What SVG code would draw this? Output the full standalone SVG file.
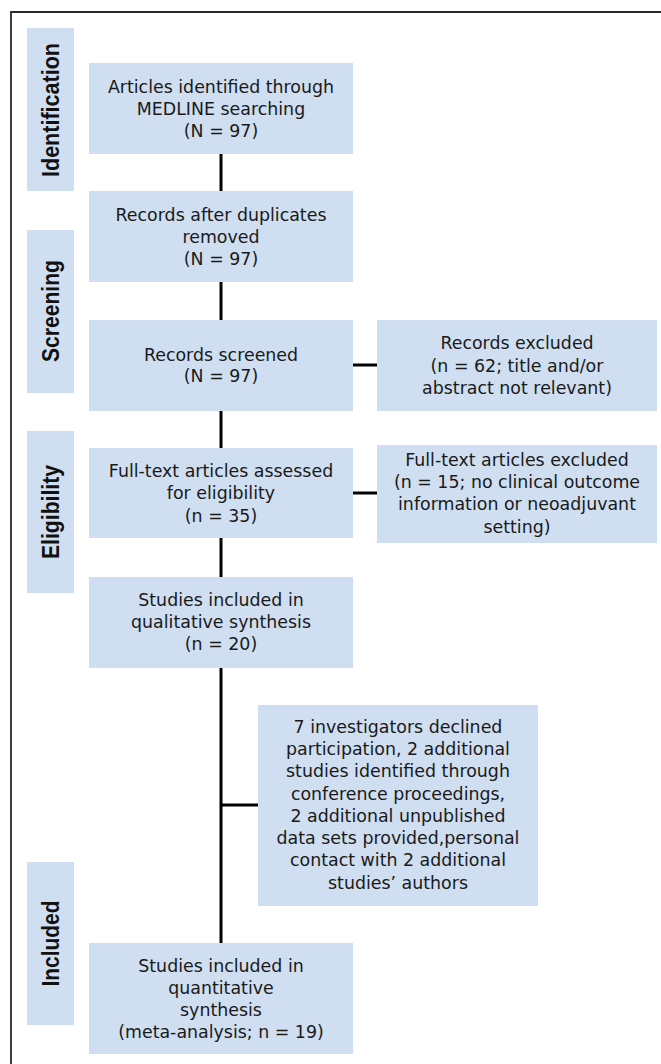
<svg xmlns="http://www.w3.org/2000/svg" width="661" height="1064" viewBox="0 0 661 1064">
<style>
.box{fill:#cfdef0}
.lab{fill:#cfdef0}
.t{font-family:"DejaVu Sans",sans-serif;font-size:17.4px;fill:#1a1a1a;text-anchor:middle}
.lt{font-family:"Liberation Sans",Arial,sans-serif;font-weight:bold;font-size:23px;fill:#111;text-anchor:middle}
.c{stroke:#000;stroke-width:3;fill:none}
</style>
<rect width="661" height="1064" fill="#fff"/>
<path d="M11,1064 V12 H661" fill="none" stroke="#2a2a2a" stroke-width="1.8"/>
<g id="labels">
<g id="lab-identification"><rect class="lab" x="27" y="28" width="47" height="163"/><text class="lt" transform="translate(59,110) rotate(-90)" textLength="134" lengthAdjust="spacingAndGlyphs">Identification</text></g>
<g id="lab-screening"><rect class="lab" x="27" y="230" width="47" height="163"/><text class="lt" transform="translate(59,311) rotate(-90)" textLength="102" lengthAdjust="spacingAndGlyphs">Screening</text></g>
<g id="lab-eligibility"><rect class="lab" x="27" y="431" width="47" height="162"/><text class="lt" transform="translate(59,512) rotate(-90)" textLength="94" lengthAdjust="spacingAndGlyphs">Eligibility</text></g>
<g id="lab-included"><rect class="lab" x="27" y="862" width="47" height="163"/><text class="lt" transform="translate(59,943.5) rotate(-90)" textLength="86" lengthAdjust="spacingAndGlyphs">Included</text></g>
</g>
<g id="connectors">
<line class="c" x1="221" y1="154" x2="221" y2="191"/>
<line class="c" x1="221" y1="282" x2="221" y2="320"/>
<line class="c" x1="221" y1="411" x2="221" y2="448"/>
<line class="c" x1="221" y1="538" x2="221" y2="577"/>
<line class="c" x1="221" y1="668" x2="221" y2="943"/>
<line class="c" x1="353" y1="365" x2="377" y2="365"/>
<line class="c" x1="353" y1="493" x2="377" y2="493"/>
<line class="c" x1="221" y1="805" x2="258" y2="805"/>
</g>
<g id="n1"><rect class="box" x="89" y="63" width="264" height="91"/><text class="t"><tspan x="221" y="92.7">Articles identified through</tspan><tspan x="221" y="115">MEDLINE searching</tspan><tspan x="221" y="137">(N = 97)</tspan></text></g>
<g id="n2"><rect class="box" x="89" y="191" width="264" height="91"/><text class="t"><tspan x="221" y="220.7">Records after duplicates</tspan><tspan x="221" y="242.5">removed</tspan><tspan x="221" y="264.5">(N = 97)</tspan></text></g>
<g id="n3"><rect class="box" x="89" y="320" width="264" height="91"/><text class="t"><tspan x="221" y="360.5">Records screened</tspan><tspan x="221" y="382">(N = 97)</tspan></text></g>
<g id="r1"><rect class="box" x="377" y="320" width="280" height="91"/><text class="t"><tspan x="517" y="349.3">Records excluded</tspan><tspan x="517" y="371.7">(n = 62; title and/or</tspan><tspan x="517" y="393.5">abstract not relevant)</tspan></text></g>
<g id="n4"><rect class="box" x="89" y="448" width="264" height="90"/><text class="t"><tspan x="221" y="476.7">Full-text articles assessed</tspan><tspan x="221" y="499.3">for eligibility</tspan><tspan x="221" y="521.7">(n = 35)</tspan></text></g>
<g id="r2"><rect class="box" x="377" y="445" width="280" height="98"/><text class="t"><tspan x="517" y="465.7">Full-text articles excluded</tspan><tspan x="517" y="488.3">(n = 15; no clinical outcome</tspan><tspan x="517" y="510.3">information or neoadjuvant</tspan><tspan x="517" y="532.5">setting)</tspan></text></g>
<g id="n5"><rect class="box" x="89" y="577" width="264" height="91"/><text class="t"><tspan x="221" y="605.7">Studies included in</tspan><tspan x="221" y="627.5">qualitative synthesis</tspan><tspan x="221" y="650">(n = 20)</tspan></text></g>
<g id="n6"><rect class="box" x="258" y="705" width="280" height="201"/><text class="t"><tspan x="398" y="732.7">7 investigators declined</tspan><tspan x="398" y="755">participation, 2 additional</tspan><tspan x="398" y="777.3">studies identified through</tspan><tspan x="398" y="799.5">conference proceedings,</tspan><tspan x="398" y="821.7">2 additional unpublished</tspan><tspan x="398" y="844">data sets provided,personal</tspan><tspan x="398" y="866.3">contact with 2 additional</tspan><tspan x="398" y="888.5">studies’ authors</tspan></text></g>
<g id="n7"><rect class="box" x="89" y="943" width="264" height="111"/><text class="t"><tspan x="221" y="971.7">Studies included in</tspan><tspan x="221" y="993.5">quantitative</tspan><tspan x="221" y="1015.7">synthesis</tspan><tspan x="221" y="1038.3">(meta-analysis; n = 19)</tspan></text></g>
</svg>
